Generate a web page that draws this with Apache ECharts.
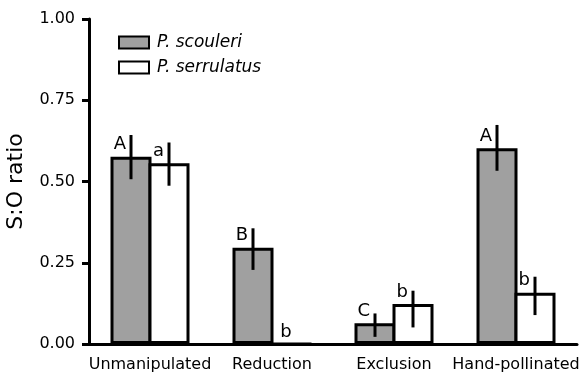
<!DOCTYPE html>
<html>
<head>
<meta charset="utf-8">
<script src="https://cdn.jsdelivr.net/npm/echarts@6/dist/echarts.min.js"></script>
<style>html,body{margin:0;padding:0;background:#fff}#c{width:582px;height:373px}</style>
</head>
<body>
<div id="c"></div>
<script>
const categories = ['Unmanipulated', 'Reduction', 'Exclusion', 'Hand-pollinated'];
const yTicks = [0, 0.25, 0.5, 0.75, 1.0];
const scouleri = [0.576, 0.296, 0.064, 0.602];
const scouleriLo = [0.507, 0.228, 0.022, 0.533];
const scouleriHi = [0.643, 0.356, 0.094, 0.674];
const serrulatus = [0.556, 0, 0.123, 0.158];
const serrulatusLo = [0.487, null, 0.051, 0.089];
const serrulatusHi = [0.620, null, 0.164, 0.207];
const scouleriLetters = ['A', 'B', 'C', 'A'];
const serrulatusLetters = ['a', 'b', 'b', 'b'];

const FONT = 'DejaVu Sans';
const BAR_W = 41;
const OVERLAP = 3;               // px the two bars' borders overlap
const OFFSET = BAR_W / 2 - OVERLAP / 2;

const chart = echarts.init(document.getElementById('c'), null, {renderer: 'canvas'});

function errData(lo, hi, side) {
  return categories.map((c, i) => lo[i] == null ? null : [i, lo[i], hi[i], side]).filter(d => d);
}
function letterData(vals, lo, side) {
  return categories.map((c, i) => [i, vals[i], side, lo[i] == null ? 0 : 1]);
}

function renderErr(params, api) {
  const i = api.value(0), lo = api.value(1), hi = api.value(2), side = api.value(3);
  const pHi = api.coord([i, hi]);
  const pLo = api.coord([i, lo]);
  const x = pHi[0] + side * OFFSET;
  return {
    type: 'line',
    shape: {x1: x, y1: pHi[1], x2: x, y2: pLo[1]},
    style: {stroke: '#000', lineWidth: 3}
  };
}
function makeLetterRenderer(letters) {
  return function (params, api) {
    const i = api.value(0), v = api.value(1), side = api.value(2), hasErr = api.value(3);
    const p = api.coord([i, v]);
    const cx = p[0] + side * OFFSET;
    return {
      type: 'text',
      x: cx - 5,
      y: p[1] - 3,
      style: {
        text: letters[params.dataIndex],
        fill: '#000',
        font: '18px "' + FONT + '"',
        align: hasErr ? 'right' : 'center',
        verticalAlign: 'bottom'
      }
    };
  };
}

chart.setOption({
  animation: false,
  backgroundColor: '#fff',
  textStyle: {fontFamily: FONT},
  legend: {
    orient: 'vertical',
    left: 113,
    top: 29,
    itemWidth: 30,
    itemHeight: 12,
    itemGap: 8,
    icon: 'rect',
    textStyle: {fontFamily: FONT, fontSize: 17, fontStyle: 'italic', color: '#000', padding: [0, 0, 0, 3]},
    data: ['P. scouleri', 'P. serrulatus']
  },
  grid: {left: 89, right: 5, top: 19, bottom: 29, containLabel: false, outerBoundsMode: 'none'},
  xAxis: {
    type: 'category',
    data: categories,
    axisLine: {lineStyle: {color: '#000', width: 3}},
    axisTick: {alignWithLabel: true, length: 6, lineStyle: {color: '#000', width: 3}},
    axisLabel: {color: '#000', fontSize: 16, fontFamily: FONT, margin: 13, interval: 0}
  },
  yAxis: {
    type: 'value',
    min: 0,
    max: 1,
    interval: 0.25,
    name: 'S:O ratio',
    nameLocation: 'middle',
    nameGap: 62,
    nameTextStyle: {color: '#000', fontSize: 22, fontFamily: FONT},
    axisLine: {show: true, lineStyle: {color: '#000', width: 3}},
    axisTick: {show: true, length: 7, lineStyle: {color: '#000', width: 3}},
    axisLabel: {color: '#000', fontSize: 16, fontFamily: FONT, margin: 14,
      formatter: v => yTicks.includes(v) ? v.toFixed(2) : ''},
    splitLine: {show: false}
  },
  series: [
    {
      name: 'P. scouleri', type: 'bar', data: scouleri, barWidth: BAR_W,
      barGap: (-OVERLAP / BAR_W * 100) + '%',
      itemStyle: {color: '#a0a0a0', borderColor: '#000', borderWidth: 3}
    },
    {
      name: 'P. serrulatus', type: 'bar', data: serrulatus, barWidth: BAR_W,
      barGap: (-OVERLAP / BAR_W * 100) + '%',
      itemStyle: {color: '#fff', borderColor: '#000', borderWidth: 3}
    },
    {type: 'custom', renderItem: renderErr, data: errData(scouleriLo, scouleriHi, -1), z: 5, silent: true},
    {type: 'custom', renderItem: renderErr, data: errData(serrulatusLo, serrulatusHi, 1), z: 5, silent: true},
    {type: 'custom', renderItem: makeLetterRenderer(scouleriLetters), data: letterData(scouleri, scouleriLo, -1), z: 6, silent: true},
    {type: 'custom', renderItem: makeLetterRenderer(serrulatusLetters), data: letterData(serrulatus, serrulatusLo, 1), z: 6, silent: true}
  ]
});
</script>
</body>
</html>
